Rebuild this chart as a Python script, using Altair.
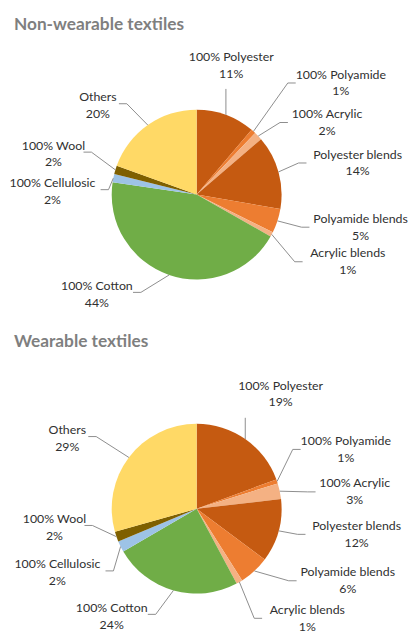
import math
import altair as alt
import pandas as pd

# ---------------- data ----------------
categories = ["100% Polyester", "100% Polyamide", "100% Acrylic", "Polyester blends",
              "Polyamide blends", "Acrylic blends", "100% Cotton", "100% Cellulosic",
              "100% Wool", "Others"]
nonwear_values = [11.2, 0.9, 1.6, 14.0, 4.6, 0.9, 44.1, 1.6, 1.6, 19.5]
nonwear_pct = ["11%", "1%", "2%", "14%", "5%", "1%", "44%", "2%", "2%", "20%"]
wear_values = [19.4, 0.8, 3.0, 12.0, 5.8, 1.2, 24.4, 2.1, 1.9, 29.4]
wear_pct = ["19%", "1%", "3%", "12%", "6%", "1%", "24%", "2%", "2%", "29%"]
titles = ["Non-wearable textiles", "Wearable textiles"]

# ---------------- styles / layout ----------------
colors = ["#C55A11", "#ED7D31", "#F4B183", "#C55A11", "#ED7D31", "#F4B183",
          "#70AD47", "#9DC3E6", "#7F6000", "#FFD966"]
W = 400
H1, H2 = 318, 309
CX, CY, R = 191, 185, 86
FONT = "Lato"
FS = 12.5
LINE = 17
CHAR_W = 6.1
TITLE_Y = [18, 21]
# label-centre offsets from pie centre (dx, dy)
nonwear_offsets = [(35, -131), (146, -113), (132, -73), (163, -32), (166, 33),
                   (153, 68), (-101, 101), (-146, -3), (-145, -41), (-100, -90)]
wear_offsets = [(85, -116), (151, -60), (160, -17), (162, 26), (153, 73),
                (112, 111), (-86, 109), (-141, 65), (-144, 19), (-131, -71)]


def panel(values, pcts, offsets, title, h, title_y):
    pie_df = pd.DataFrame({"cat": categories, "value": values, "idx": range(len(values))})
    total = sum(values)
    texts, segs = [], []
    cum = 0.0
    for i, (cat, v, p, (dx, dy)) in enumerate(zip(categories, values, pcts, offsets)):
        mid = (cum + v / 2) / total * 2 * math.pi
        cum += v
        ax, ay = CX + R * math.sin(mid), CY - R * math.cos(mid)
        lx, ly = CX + dx, CY + dy
        texts.append({"x": lx, "y": ly - LINE / 2, "t": cat})
        texts.append({"x": lx, "y": ly + LINE / 2, "t": p})
        half = max(len(cat), len(p)) * CHAR_W / 2
        left, right = lx - half, lx + half
        if left > ax + 5:
            cxp, cyp = left - 3, ly
            bx, by = cxp - 8, cyp
        elif right < ax - 5:
            cxp, cyp = right + 3, ly - 2
            bx, by = cxp + 8, cyp
        else:
            cxp, cyp = min(max(ax, left), right), ly + 24
            bx, by = cxp, cyp
        segs.append({"x": ax, "y": ay, "x2": bx, "y2": by})
        segs.append({"x": bx, "y": by, "x2": cxp, "y2": cyp})

    pie = alt.Chart(pie_df).mark_arc(outerRadius=R).encode(
        theta=alt.Theta("value:Q", stack=True),
        color=alt.Color("cat:N", scale=alt.Scale(domain=list(range(10)), range=colors), legend=None),
        order=alt.Order("idx:Q"),
        x=alt.value(CX), y=alt.value(CY),
    ).transform_calculate(cat="datum.idx")

    rules = alt.Chart(pd.DataFrame(segs)).mark_rule(color="#8c8c8c", strokeWidth=1).encode(
        x=alt.X("x:Q", scale=None, axis=None), y=alt.Y("y:Q", scale=None, axis=None),
        x2="x2:Q", y2="y2:Q")

    labels = alt.Chart(pd.DataFrame(texts)).mark_text(
        font=FONT, fontSize=FS, color="#303030", align="center", baseline="middle"
    ).encode(x=alt.X("x:Q", scale=None, axis=None), y=alt.Y("y:Q", scale=None, axis=None), text="t:N")

    ttl = alt.Chart(pd.DataFrame({"t": [title]})).mark_text(
        font=FONT, fontSize=17.5, fontWeight="bold", color="#7F7F7F", align="left",
        baseline="alphabetic"
    ).encode(x=alt.value(6), y=alt.value(title_y), text="t:N")

    return alt.layer(pie, rules, labels, ttl).properties(width=W, height=h)


chart = alt.vconcat(
    panel(nonwear_values, nonwear_pct, nonwear_offsets, titles[0], H1, TITLE_Y[0]),
    panel(wear_values, wear_pct, wear_offsets, titles[1], H2, TITLE_Y[1]),
    spacing=0,
).properties(padding=0).configure_view(strokeWidth=0).resolve_scale(color="independent")

chart.save("out.html", embed_options={"renderer": "svg", "actions": False})
